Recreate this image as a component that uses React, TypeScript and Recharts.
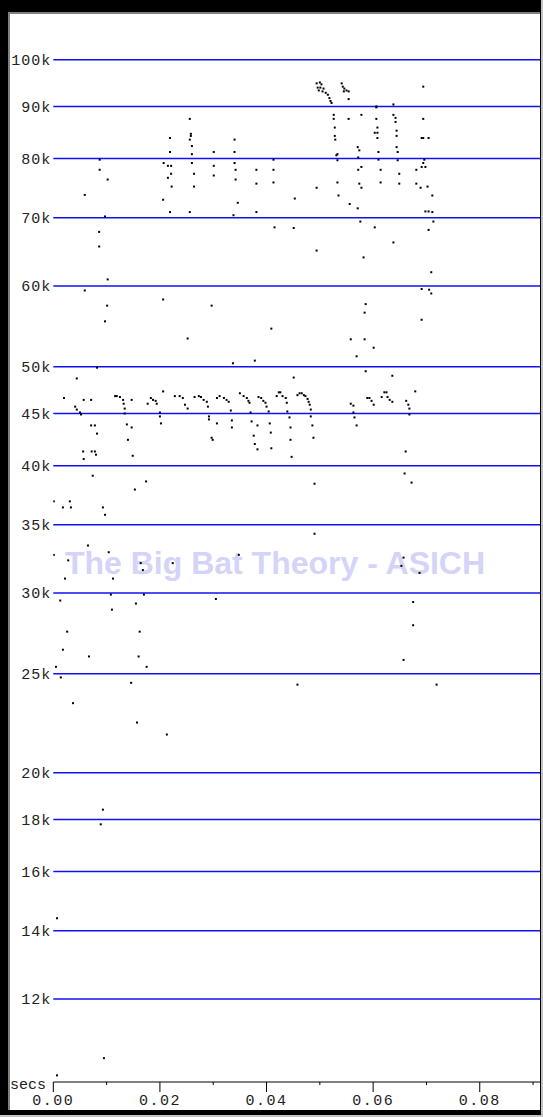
import React from 'react';
import {
  ScatterChart,
  Scatter,
  XAxis,
  YAxis,
  ReferenceLine,
} from 'recharts';

// [time ms, frequency kHz], grouped by band
const upperSweeps: Array<[number, number]> = [
  [25.6, 87.5], [21.9, 83.8], [25.8, 84.6], [25.8, 84.2], [25.6, 83.5], [34.0, 83.5],
  [26.0, 82.3], [21.9, 81.2], [26.0, 80.8], [30.1, 81.2], [34.0, 81.2], [8.7, 79.8],
  [20.7, 79.2], [21.5, 78.7], [22.1, 78.7], [26.0, 79.2], [30.1, 78.7], [34.0, 79.2],
  [41.3, 79.8], [8.7, 78.0], [22.1, 77.3], [26.4, 77.3], [34.2, 78.0], [38.1, 78.0],
  [41.3, 78.0], [10.2, 76.3], [21.5, 76.6], [30.1, 77.0], [34.2, 76.3], [38.1, 75.6],
  [41.3, 75.8], [22.2, 75.1], [26.4, 75.1], [5.9, 73.7], [20.6, 72.9], [34.6, 72.4],
  [45.3, 73.1], [21.9, 70.9], [25.6, 70.9], [33.8, 70.4], [38.1, 70.9], [9.7, 70.2],
  [41.5, 68.5], [45.1, 68.4], [8.6, 67.8], [8.6, 65.6], [10.2, 60.9], [5.9, 59.4],
  [20.6, 58.2], [10.1, 57.4], [29.7, 57.4], [9.7, 55.4], [40.9, 54.5], [25.2, 53.3],
];

const buzzCluster: Array<[number, number]> = [
  [49.4, 94.8], [50.0, 95.0], [50.3, 94.6], [49.6, 93.9], [50.1, 93.9], [50.7, 93.7],
  [49.8, 93.3], [50.5, 93.1], [51.1, 92.8], [51.5, 92.4], [51.8, 91.7], [52.0, 91.1],
  [52.2, 90.7], [54.1, 94.8], [54.3, 94.1], [54.6, 93.7], [55.0, 93.3], [55.4, 93.1],
  [54.5, 93.1], [55.4, 91.5], [69.4, 94.1], [60.6, 90.0], [60.6, 89.8], [63.8, 90.4],
  [52.6, 88.3], [52.6, 87.5], [55.4, 87.5], [57.8, 88.3], [60.6, 87.5], [63.8, 88.3],
  [64.2, 87.7], [64.2, 86.9], [69.4, 87.5], [52.8, 85.8], [60.8, 85.8], [64.4, 85.2],
  [60.3, 84.8], [60.8, 84.8], [52.8, 84.2], [52.9, 83.5], [60.8, 83.8], [64.4, 84.2],
  [69.1, 83.8], [69.4, 83.8], [70.4, 83.8], [57.1, 82.1], [57.4, 81.5], [64.4, 82.1],
  [53.3, 80.8], [53.1, 80.6], [61.0, 81.2], [64.6, 81.2], [57.2, 80.2], [53.3, 79.7],
  [61.0, 79.8], [64.6, 79.7], [69.6, 79.8], [69.4, 79.2], [69.1, 78.5], [69.8, 78.5],
  [57.8, 78.5], [57.2, 78.0], [68.1, 78.0], [61.4, 78.0], [64.9, 77.3], [53.3, 75.8],
  [57.4, 75.6], [57.8, 74.9], [61.4, 75.8], [64.9, 75.6], [68.1, 75.6], [68.9, 74.9],
  [70.2, 75.1], [49.4, 74.9], [53.5, 73.6], [71.1, 73.6], [55.6, 72.2], [57.1, 71.5],
  [69.8, 71.0], [70.4, 71.0], [71.1, 70.9], [57.6, 69.4], [71.3, 69.4], [60.3, 68.5],
  [70.4, 68.1], [63.8, 66.2], [49.4, 65.0], [58.2, 64.0], [70.9, 61.9], [69.1, 59.6],
  [70.5, 59.5], [70.9, 59.0], [58.6, 57.6], [58.4, 56.5], [69.1, 55.6], [55.8, 53.2],
  [58.4, 53.2], [60.1, 52.2], [56.9, 51.2],
];

const mainBand: Array<[number, number]> = [
  [8.2, 49.9], [4.4, 48.7], [2.0, 46.6], [4.1, 45.7], [4.4, 45.4], [5.0, 45.1],
  [5.2, 44.9], [5.7, 46.4], [7.1, 46.4], [7.1, 43.8], [7.8, 43.8], [8.2, 43.0],
  [5.6, 41.3], [5.7, 40.6], [7.2, 41.3], [7.8, 41.3], [8.0, 41.0], [7.4, 39.1],
  [11.6, 46.8], [11.9, 46.8], [12.5, 46.7], [13.1, 46.4], [13.2, 46.0], [13.4, 45.5],
  [13.4, 45.0], [13.8, 43.9], [14.7, 43.6], [14.0, 42.4], [14.9, 40.9], [14.7, 46.4],
  [17.7, 46.0], [18.3, 46.6], [18.7, 46.4], [19.2, 46.3], [19.4, 46.0], [20.0, 45.1],
  [20.0, 44.7], [20.2, 44.0], [20.6, 47.3], [22.8, 46.8], [23.7, 46.8], [24.3, 46.6],
  [24.7, 45.9], [25.2, 45.5], [26.5, 46.7], [27.3, 46.8], [27.7, 46.7], [28.2, 46.4],
  [28.8, 46.2], [29.0, 45.7], [29.2, 44.7], [29.2, 44.4], [29.7, 42.6], [29.9, 42.4],
  [30.7, 44.0], [30.7, 46.6], [31.2, 46.8], [32.0, 46.6], [32.5, 46.4], [32.9, 46.2],
  [33.3, 45.3], [33.5, 44.3], [33.5, 43.6], [33.7, 50.4], [37.8, 50.7], [35.0, 47.1],
  [35.7, 46.8], [36.3, 46.6], [36.6, 46.3], [36.8, 46.1], [37.0, 45.1], [37.2, 44.2],
  [38.3, 43.8], [37.6, 42.8], [37.8, 42.0], [38.3, 41.5], [38.5, 46.7], [39.0, 46.6],
  [39.4, 46.3], [39.8, 46.1], [40.0, 45.7], [40.4, 45.2], [40.6, 44.0], [40.8, 43.1],
  [40.9, 41.6], [41.9, 46.8], [42.3, 47.2], [42.6, 47.2], [43.0, 46.8], [43.6, 46.6],
  [43.8, 46.1], [43.9, 45.2], [44.3, 44.6], [44.5, 43.6], [44.5, 42.4], [44.7, 40.8],
  [45.1, 48.8], [45.8, 46.9], [46.2, 47.1], [46.6, 47.1], [47.0, 46.9], [47.3, 46.8],
  [47.7, 46.5], [47.9, 46.2], [48.1, 45.9], [48.3, 45.4], [48.3, 44.7], [48.6, 43.8],
  [48.8, 42.6], [55.8, 46.0], [56.3, 45.8], [56.3, 45.1], [56.5, 44.6], [56.9, 43.8],
  [58.6, 49.5], [58.9, 46.6], [59.3, 46.6], [59.7, 46.3], [60.1, 45.9], [62.1, 47.2],
  [62.5, 47.2], [61.6, 46.7], [62.7, 46.7], [63.1, 46.4], [63.6, 46.2], [63.6, 49.0],
  [66.2, 46.3], [66.6, 45.9], [66.8, 45.5], [66.8, 44.9], [67.9, 47.3], [66.1, 41.3],
  [65.9, 39.3], [67.2, 38.5],
];

const lowerScatter: Array<[number, number]> = [
  [49.0, 38.4], [17.4, 38.6], [15.3, 37.9], [0.1, 36.9], [1.8, 36.4], [3.1, 36.9],
  [3.3, 36.4], [9.3, 36.4], [9.7, 35.8], [6.5, 33.4], [0.1, 32.7], [2.8, 32.3],
  [10.4, 32.9], [16.4, 32.1], [16.8, 31.6], [22.4, 32.1], [34.8, 32.7], [2.2, 31.0],
  [11.2, 31.0], [10.8, 29.9], [17.0, 29.9], [1.3, 29.5], [30.5, 29.6], [15.5, 29.3],
  [11.0, 28.9], [2.6, 27.5], [16.2, 27.5], [1.8, 26.4], [6.7, 26.0], [16.0, 26.0],
  [0.5, 25.4], [17.5, 25.4], [1.4, 24.8], [14.6, 24.5], [45.8, 24.4], [3.7, 23.4],
  [15.7, 22.4], [21.3, 21.8], [49.0, 34.3], [65.7, 32.5], [65.3, 31.9], [68.7, 31.4],
  [67.5, 29.4], [67.5, 27.9], [65.7, 25.8], [71.9, 24.4], [9.3, 18.4], [8.9, 17.8],
  [0.7, 14.4], [9.5, 10.5], [0.7, 10.1],
];

const yTicks = [12000, 14000, 16000, 18000, 20000, 25000, 30000, 35000, 40000, 45000, 50000, 60000, 70000, 80000, 90000, 100000];
const xTicks = [0, 0.01, 0.02, 0.03, 0.04, 0.05, 0.06, 0.07, 0.08, 0.09];

const points = [...upperSweeps, ...buzzCluster, ...mainBand, ...lowerScatter].map(([ms, khz]) => ({
  t: ms / 1000,
  f: khz * 1000,
}));

const monoFont = '"Liberation Mono", "DejaVu Sans Mono", monospace';

const Dot = (props: any) => (
  <rect x={props.cx - 1} y={props.cy - 1} width={2} height={2} fill="#000" />
);

const XTick = (props: any) => {
  const { x, y, payload } = props;
  const major = Math.round(payload.value * 100) % 2 === 0;
  return (
    <g>
      <line x1={x} x2={x} y1={y} y2={y + (major ? 10 : 3)} stroke="#000" strokeWidth={1} />
      {major && (
        <text x={x} y={y + 23} textAnchor="middle" fontFamily={monoFont} fontSize={15} letterSpacing={1.5} fill="#222">
          {payload.value.toFixed(2)}
        </text>
      )}
    </g>
  );
};

const YTick = (props: any) => {
  const { x, y, payload } = props;
  return (
    <text x={x} y={y} dy="0.35em" textAnchor="end" fontFamily={monoFont} fontSize={15} letterSpacing={1} fill="#222">
      {`${payload.value / 1000}k`}
    </text>
  );
};

export default function App() {
  return (
    <div style={{ position: 'absolute', left: 0, top: 0, width: 543, height: 1117, background: '#000' }}>
      <div style={{ position: 'absolute', left: 541, top: 0, width: 2, height: 1117, background: '#c4c4c4' }} />
      <div style={{ position: 'absolute', left: 0, top: 1115, width: 543, height: 2, background: '#c4c4c4' }} />
      <div
        style={{
          position: 'absolute',
          left: 8,
          top: 12,
          width: 532,
          height: 1098,
          background: '#fff',
          borderLeft: '2px solid #808080',
          borderTop: '2px solid #808080',
          boxSizing: 'border-box',
        }}
      >
        <div
          style={{
            position: 'absolute',
            left: 0,
            top: 533,
            width: 530,
            textAlign: 'center',
            fontFamily: '"Liberation Sans", Arial, sans-serif',
            fontWeight: 'bold',
            fontSize: 32,
            lineHeight: '32px',
            color: '#d4d4f8',
            whiteSpace: 'nowrap',
          }}
        >
          The Big Bat Theory - ASICH
        </div>
        <div style={{ position: 'absolute', left: 0, top: 1063, fontFamily: monoFont, fontSize: 15, color: '#222' }}>
          secs
        </div>
        <div style={{ position: 'absolute', left: 0, top: 0 }}>
          <ScatterChart width={530} height={1096} margin={{ top: 3.5, right: 0, bottom: 0, left: 0 }}>
            <XAxis
              dataKey="t"
              type="number"
              domain={[0, 0.0913]}
              ticks={xTicks}
              tick={<XTick />}
              tickSize={0}
              tickMargin={0}
              height={28}
              axisLine={{ stroke: '#000', strokeWidth: 1 }}
              tickLine={false}
              allowDataOverflow
              interval={0}
            />
            <YAxis
              dataKey="f"
              type="number"
              scale="log"
              domain={[9950, 110000]}
              ticks={yTicks}
              tick={<YTick />}
              tickSize={0}
              tickMargin={2}
              width={43.3}
              axisLine={false}
              tickLine={false}
              allowDataOverflow
              interval={0}
            />
            {yTicks.map((v) => (
              <ReferenceLine key={v} y={v} stroke="#1010f5" strokeWidth={1.5} />
            ))}
            <Scatter data={points} shape={<Dot />} isAnimationActive={false} />
          </ScatterChart>
        </div>
      </div>
    </div>
  );
}
